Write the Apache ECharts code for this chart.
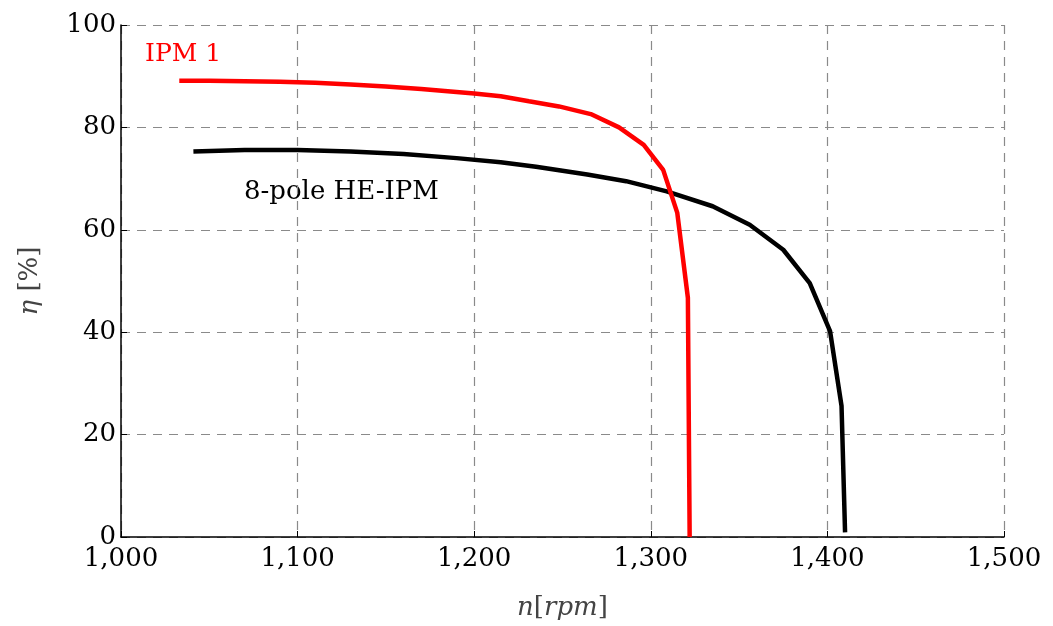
<!DOCTYPE html>
<html>
<head>
<meta charset="utf-8">
<script src="https://cdn.jsdelivr.net/npm/echarts@6/dist/echarts.min.js"></script>
<style>html,body{margin:0;padding:0;background:#fff;}#c{width:1053px;height:626px;}</style>
</head>
<body>
<div id="c"></div>
<script>
const ipm1Speed = [1033, 1050, 1070, 1090, 1110, 1130, 1150, 1170, 1190, 1200, 1215, 1231, 1248, 1266, 1282, 1296, 1307, 1315, 1321, 1322];
const ipm1Eff   = [89.1, 89.1, 89.0, 88.9, 88.7, 88.4, 88.0, 87.5, 86.9, 86.6, 86.1, 85.1, 84.1, 82.6, 80.0, 76.6, 71.7, 63.3, 46.7, 0];
const heSpeed = [1041, 1070, 1100, 1130, 1160, 1190, 1215, 1235, 1264, 1286, 1309, 1335, 1356, 1375, 1390, 1401.5, 1408, 1410];
const heEff   = [75.3, 75.6, 75.6, 75.3, 74.8, 74.0, 73.2, 72.3, 70.8, 69.5, 67.5, 64.6, 61.0, 56.1, 49.6, 40.2, 25.6, 0.9];
const xTicks = [1000, 1100, 1200, 1300, 1400, 1500];
const yTicks = [0, 20, 40, 60, 80, 100];

const FONT = '"DejaVu Serif", "Liberation Serif", serif';
const chart = echarts.init(document.getElementById('c'), null, {renderer: 'canvas'});
const zip = (a, b) => a.map((v, i) => [v, b[i]]);
const gridStyle = {show: true, lineStyle: {color: '#8a8a8a', type: [9, 7], width: 1.2}};
const nameRich = {
  it: {fontFamily: FONT, fontSize: 26, fontStyle: 'italic', color: '#444'},
  up: {fontFamily: FONT, fontSize: 26, color: '#444'}
};
chart.setOption({
  animation: false,
  backgroundColor: '#fff',
  grid: {left: 121, right: 49, top: 25, bottom: 88, containLabel: false},
  xAxis: {
    type: 'value', min: xTicks[0], max: xTicks[xTicks.length - 1], interval: 100,
    axisLine: {show: true, onZero: false, lineStyle: {color: '#000', width: 1.5}},
    axisTick: {show: true, inside: true, length: 6, lineStyle: {color: '#000'}},
    splitLine: gridStyle,
    axisLabel: {color: '#000', fontFamily: FONT, fontSize: 26, margin: 9,
      formatter: v => v.toLocaleString('en-US')},
    name: '{it|n}{up|[}{it|rpm}{up|]}', nameLocation: 'middle', nameGap: 58,
    nameTextStyle: {rich: nameRich}
  },
  yAxis: {
    type: 'value', min: yTicks[0], max: yTicks[yTicks.length - 1], interval: 20,
    axisLine: {show: true, onZero: false, lineStyle: {color: '#000', width: 1.5}},
    axisTick: {show: true, inside: true, length: 6, lineStyle: {color: '#000'}},
    splitLine: gridStyle,
    axisLabel: {color: '#000', fontFamily: FONT, fontSize: 26, margin: 5},
    name: '{it|η}{up| [%]}', nameLocation: 'middle', nameGap: 78, nameRotate: 90,
    nameTextStyle: {rich: nameRich}
  },
  series: [
    {type: 'line', name: 'IPM 1', data: zip(ipm1Speed, ipm1Eff), showSymbol: false, smooth: false,
     lineStyle: {color: '#ff0000', width: 4.5}, z: 3},
    {type: 'line', name: '8-pole HE-IPM', data: zip(heSpeed, heEff), showSymbol: false, smooth: false,
     lineStyle: {color: '#000', width: 4.5}, z: 2}
  ],
  graphic: [
    {type: 'text', left: 145, top: 42, style: {text: 'IPM 1', fill: '#ff0000', font: '25px ' + FONT}},
    {type: 'text', left: 244, top: 179, style: {text: '8-pole HE-IPM', fill: '#000', font: '26px ' + FONT}}
  ]
});
</script>
</body>
</html>
